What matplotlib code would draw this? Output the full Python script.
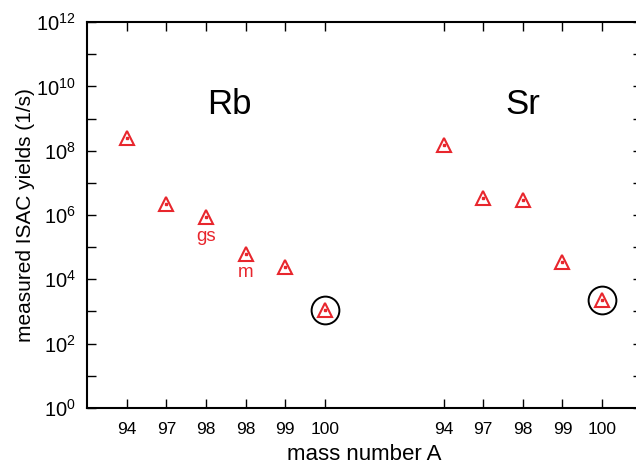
import matplotlib.pyplot as plt
from matplotlib.ticker import FixedLocator, NullFormatter
import numpy as np

plt.rcParams['font.family'] = ['Liberation Sans', 'DejaVu Sans']

# Rb and Sr isotopes (mass numbers used as tick labels)
rb_labels = ["94", "97", "98", "98", "99", "100"]
rb_yields = [2.5e8, 2.2e6, 8.7e5, 6.0e4, 2.5e4, 1.1e3]
sr_labels = ["94", "97", "98", "99", "100"]
sr_yields = [1.5e8, 3.4e6, 2.9e6, 3.4e4, 2.2e3]

rb_pos = np.arange(1, 7)
sr_pos = np.arange(9, 14)

red = "#e8262d"

fig = plt.figure(figsize=(6.36, 4.70), dpi=100)
ax = fig.add_axes([0.137, 0.132, 0.872, 0.821])

pos = np.concatenate([rb_pos, sr_pos])
vals = np.array(rb_yields + sr_yields)

ax.plot(pos, vals, "^", ms=10.5, mfc="none", mec=red, mew=1.5, ls="none")
ax.plot(pos, vals, "s", ms=1.6, color=red, ls="none")

# circled points (mass 100)
ax.plot([rb_pos[-1], sr_pos[-1]], [rb_yields[-1], sr_yields[-1]], "o", ms=20,
        mfc="none", mec="black", mew=1.4, ls="none")

ax.annotate("gs", (rb_pos[2], rb_yields[2]), xytext=(0, -14), textcoords="offset points",
            color=red, fontsize=13.5, ha="center", va="center")
ax.annotate("m", (rb_pos[3], rb_yields[3]), xytext=(0, -13), textcoords="offset points",
            color=red, fontsize=13.5, ha="center", va="center")

ax.text(3.6, 2.8e9, "Rb", fontsize=25, ha="center", va="center")
ax.text(11.0, 2.8e9, "Sr", fontsize=25, ha="center", va="center")

ax.set_yscale("log")
ax.set_ylim(1, 1e12)
ax.set_xlim(0, 14)
ax.yaxis.set_major_locator(FixedLocator([10.0 ** k for k in range(0, 13, 2)]))
ax.yaxis.set_minor_locator(FixedLocator([10.0 ** k for k in range(1, 12, 2)]))
ax.yaxis.set_minor_formatter(NullFormatter())
ax.set_yticklabels([r"$\mathregular{10^{%d}}$" % k for k in range(0, 13, 2)])

ax.set_xticks(pos)
ax.set_xticklabels(rb_labels + sr_labels)

ax.tick_params(axis="both", which="both", direction="in", top=True, right=True)
ax.tick_params(axis="y", which="major", length=6.5, width=1, labelsize=14.5, pad=8)
ax.tick_params(axis="y", which="minor", length=6.5, width=1)
ax.tick_params(axis="x", which="major", length=6.5, width=1, labelsize=12.5, pad=10)

for s in ax.spines.values():
    s.set_linewidth(1.5)

ax.set_xlabel("mass number A", fontsize=16, labelpad=5)
ax.set_ylabel("measured ISAC yields (1/s)", fontsize=15, labelpad=1)

fig.savefig("out.png", dpi=100)
